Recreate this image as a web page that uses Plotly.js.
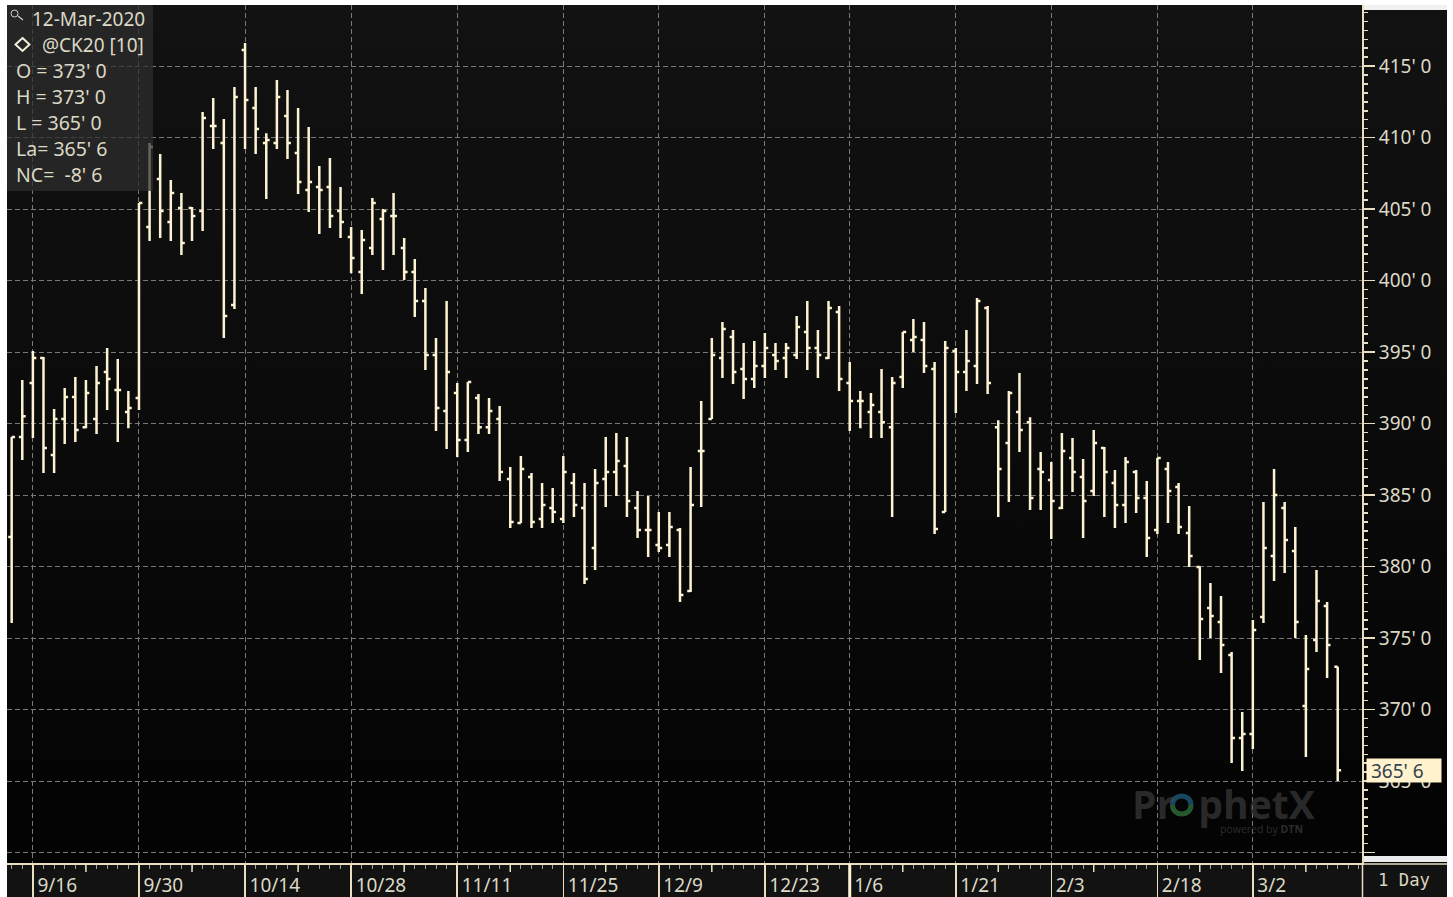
<!DOCTYPE html>
<html>
<head>
<meta charset="utf-8">
<script src="https://cdn.plot.ly/plotly-3.0.1.min.js"></script>
<style>
html,body{margin:0;padding:0;background:#fff;overflow:hidden;width:1453px;height:897px}
#top{position:absolute;left:7px;top:5px;width:1440px;height:859px;background:linear-gradient(#121212,#030303)}
#bot{position:absolute;left:7px;top:864px;width:1440px;height:33px;background:#121212}
#chart{position:absolute;left:0;top:0;width:1453px;height:897px}
</style>
</head>
<body>
<div id="top"></div><div id="bot"></div><div id="chart"></div>
<script>
// Daily bars, @CK20 (index = trading-day order on the chart)
const opens = [382.06,389.06,392.83,394.58,387.8,390.32,391.85,389.75,390.32,393.6,392.34,390.8,391.78,403.74,407.1,404.09,405.07,405.07,404.86,410.8,409.62,398.29,416.12,412.06,409.62,409.62,411.5,408.92,406.33,406.54,406.54,404.86,403.04,400.59,402.27,404.3,404.51,402.27,400.59,398.57,394.79,390.87,392.13,388.85,391.78,389.75,390.32,386.12,383.04,386.26,383.32,384.09,383.32,385.84,384.09,381.29,386.12,386.61,387.03,384.09,382.55,381.5,381.5,382.55,378.29,388.08,390.32,394.58,396.05,393.81,393.11,394.02,394.79,394.58,394.79,396.4,395.28,394.58,397.8,392.83,391.57,390.8,390.8,389.75,393.25,395.84,395.84,393.81,383.81,395.07,393.6,394.02,398.08,389.75,388.64,390.8,390.1,386.82,386.05,384.09,387.59,386.26,385.28,388.29,385.84,384.3,386.61,384.79,382.55,386.82,385.56,382.34,379.97,377.1,376.12,373.81,368.01,368.29,376.47,380.73,384.09,381.08,370.25,374.86,377.24,373];
const highs = [389.06,393.04,395.07,394.65,391.01,392.48,393.25,393.04,394.02,395.28,394.51,392.27,405.42,409.62,408.85,407.03,406.12,405.14,411.78,412.76,411.29,413.53,416.61,413.53,410.31,414.02,413.32,412.06,410.73,408.01,408.57,406.54,403.74,403.53,405.77,405,406.12,402.97,401.5,399.48,395.98,398.57,392.83,392.9,392.06,391.78,391.22,386.96,387.73,386.54,385.84,385.49,387.73,386.54,385.84,386.82,389.06,389.34,389.06,385.28,384.93,383.81,383.81,382.69,386.96,391.57,395.98,397.1,396.54,395.63,395.77,396.33,395.63,395.63,397.52,398.57,396.54,398.57,398.22,394.3,392.27,392.13,393.81,393.25,396.4,397.31,397.1,394.3,395.77,395.28,396.54,398.78,398.22,390.24,392.27,393.53,390.45,388.01,387.31,389.34,388.99,387.52,389.55,388.36,386.75,387.66,386.75,385.98,387.59,387.31,385.84,384.23,380.03,378.85,377.94,374.02,369.83,376.26,384.51,386.82,384.51,382.76,375.21,379.76,377.52,373];
const lows = [376.05,387.45,388.99,386.54,386.54,388.57,388.71,389.68,389.27,390.94,388.71,389.68,390.94,402.76,402.97,402.76,401.78,402.76,403.46,409.2,395.98,398.01,409.2,408.85,405.7,409.2,408.5,406.05,404.79,403.25,403.67,402.97,400.52,399.06,401.78,400.73,401.78,400.04,397.45,393.74,389.48,388.22,387.66,388.01,389.27,389.27,385.98,382.69,383.04,382.69,382.69,383.04,383.04,383.46,378.78,379.76,384.16,384.93,383.46,381.99,380.66,381.01,380.66,377.52,378.22,384.16,390.32,393.18,392.76,391.71,392.48,393.18,393.74,393.18,394.51,393.74,393.18,394.51,392.27,389.48,389.68,388.99,388.99,383.46,392.48,395,393.53,382.27,383.81,390.73,392.27,392.76,392.06,383.46,384.51,388.01,383.95,383.95,381.92,384.02,385.21,381.99,384.93,383.46,382.69,383.04,383.74,380.66,382.27,383.04,382.27,379.97,373.46,375,372.55,366.26,365.7,367.24,376.05,378.99,379.55,375,366.68,374.02,372.2,365];
const closes = [389.06,390.52,394.58,388.29,390.32,391.85,389.55,392.13,392.83,393.11,392.34,391.08,405.42,409.34,404.86,406.12,402.62,404.51,411.36,410.8,397.52,412.83,412.62,410.59,409.83,412.83,409.62,406.89,406.89,406.33,404.51,404.09,401.57,402.83,405.42,404.86,404.51,400.59,398.57,394.79,391.08,393.6,388.85,392.9,389.75,390.87,386.61,383.11,386.82,383.11,384.3,383.81,386.61,384.3,379.13,385.84,386.61,387.38,384.58,382.55,382.55,381.29,382.76,378.01,384.3,388.08,394.79,396.61,393.6,393.11,394.02,395.28,394.37,395.28,396.75,395.28,394.79,398.08,393.11,391.57,391.57,391.29,390.1,392.83,396.4,396.05,394.02,382.62,395.28,393.6,394.37,398.57,392.83,386.82,392.13,389.55,384.79,386.61,384.58,388.08,386.61,384.58,388.64,386.61,384.3,387.31,384.79,381.99,387.59,385.28,382.76,380.73,376.33,376.54,374.51,368.01,368.29,375.56,381.29,385,381.85,376.12,372.83,377.59,374.51,365.75];

// Date labels and their bar positions
const dateTicks = [2,12,22,32,42,52,61,71,79,89,98,108,117];
const dateLabels = ['9/16','9/30','10/14','10/28','11/11','11/25','12/9','12/23','1/6','1/21','2/3','2/18','3/2'];
const midTicks = [7,17,27,37,47,56,66,75,84,93,102,112,122];
const priceTicks = [360,365,370,375,380,385,390,395,400,405,410,415];
const priceLabels = ['',"365' 0","370' 0","375' 0","380' 0","385' 0","390' 0","395' 0","400' 0","405' 0","410' 0","415' 0"];
const infoLines = ['O = 373\' 0','H = 373\' 0','L = 365\' 0','La= 365\' 6','NC=\u00a0\u00a0-8\' 6'];
const lastLabel = "365' 6";

const W = 1453, H = 897, L = 7, R = 91, T = 5, B = 34;
const pw = W - L - R, ph = H - T - B;
const fx = p => (p - L) / pw;
const fy = p => 1 - (p - T) / ph;

const cream = '#fdf3d2', axisCream = '#e9dfc0', textCol = '#dcd8c6';
const uiFont = '"Noto Sans", "Open Sans", sans-serif';
const uiSize = 19;

const idx = opens.map((_, i) => i);

const trace = {
  type: 'ohlc', x: idx, open: opens, high: highs, low: lows, close: closes,
  tickwidth: 0.32, hoverinfo: 'skip', showlegend: false,
  increasing: {line: {color: cream, width: 2.5}},
  decreasing: {line: {color: cream, width: 2.5}}
};

const shapes = [];
function pxLine(x0,y0,x1,y1,color,width,layer){
  shapes.push({type:'line',xref:'paper',yref:'paper',x0:fx(x0),x1:fx(x1),y0:fy(y0),y1:fy(y1),
    line:{color:color,width:width},layer:layer||'above'});
}
function pxRect(x0,y0,x1,y1,fill){
  shapes.push({type:'rect',xref:'paper',yref:'paper',x0:fx(x0),x1:fx(x1),y0:fy(y0),y1:fy(y1),
    fillcolor:fill,line:{width:0},layer:'above'});
}
function pxPath(cmds,color,width){
  const p = v => fx(v[0]).toFixed(6)+','+fy(v[1]).toFixed(6);
  shapes.push({type:'path',xref:'paper',yref:'paper',path:cmds.map(c=>c[0]+' '+c.slice(1).map(p).join(' ')).join(' '),
    line:{color:color,width:width},layer:'above'});
}
// info panel, over the bars
pxRect(7,5,153,191,'rgba(46,46,46,0.72)');
// white strips of the price panel
pxRect(1364,5,1447,10,'#f1f1f1');
pxRect(1364,856,1447,862,'#ececec');
// time-axis line continued under the price panel, divider, thicker year tick
pxLine(1362,864,1447,864,axisCream,1.5);
pxLine(1362.5,864,1362.5,897,axisCream,1.5);
shapes.push({type:'line',xref:'x',yref:'paper',x0:79,x1:79,y0:fy(864),y1:fy(897),line:{color:cream,width:3},layer:'above'});
// mid-span ticks
midTicks.forEach(v => shapes.push({type:'line',xref:'x',yref:'paper',x0:v,x1:v,y0:fy(864),y1:fy(872),line:{color:axisCream,width:1.5},layer:'above'}));
// magnifier icon
shapes.push({type:'circle',xref:'paper',yref:'paper',x0:fx(11),x1:fx(18),y0:fy(10),y1:fy(17),line:{color:'#cfcfcf',width:1},layer:'above'});
pxLine(18,16,23,20,'#cfcfcf',1.2);
// series diamond icon
pxPath([['M',[22.5,38]],['L',[29.5,44.5]],['L',[22.5,51]],['L',[15.5,44.5]],['Z']],'#f3efdc',2);
// watermark ring, blue over green
pxPath([['M',[1172.5,805]],['C',[1172.5,793],[1191,793],[1191,805]]],'#17465e',5);
pxPath([['M',[1172.5,805]],['C',[1172.5,817],[1191,817],[1191,805]]],'#25582c',5);

const annotations = [];
function label(text,px,py,opts){
  annotations.push(Object.assign({xref:'paper',yref:'paper',x:fx(px),y:fy(py),text:text,showarrow:false,
    xanchor:'left',yanchor:'middle',align:'left',borderpad:0,
    font:{family:uiFont,size:uiSize,color:textCol}},opts||{}));
}
label('12-Mar-2020',31,19);
label('@CK20 [10]',41,45);
infoLines.forEach((t,i)=>label(t,14.5,71+i*25.8,{font:{family:uiFont,size:19.5,color:textCol}}));
label('1 Day',1377,880,{font:{family:'"DejaVu Sans Mono", monospace',size:17.3,color:'#d9d4bc'}});
// watermark
label('Pr<span style="color:rgba(0,0,0,0)">o</span>phetX',1131,803,{font:{family:'"Open Sans", sans-serif',size:39,color:'rgba(74,74,74,0.55)',weight:700}});
label('powered by <b>DTN</b>',1219,829,{font:{family:'"Open Sans", sans-serif',size:10.5,color:'rgba(74,74,74,0.6)'}});
// last price flag
annotations.push({xref:'paper',yref:'y',x:fx(1366),y:closes[closes.length-1],xanchor:'left',yanchor:'middle',
  text:lastLabel,showarrow:false,align:'left',bgcolor:'#fff2cc',width:66,height:15,borderpad:4,
  font:{family:uiFont,size:19,color:'#33424f'}});

const layout = {
  width: W, height: H,
  margin: {l:L,r:R,t:T,b:B,pad:0},
  paper_bgcolor:'rgba(0,0,0,0)', plot_bgcolor:'rgba(0,0,0,0)',
  showlegend:false, hovermode:false, dragmode:false,
  xaxis:{
    type:'linear', range:[-0.44,127.29], rangeslider:{visible:false},
    tickmode:'array', tickvals:dateTicks, ticktext:dateLabels,
    ticks:'outside', ticklen:33, tickwidth:1.5, tickcolor:axisCream,
    showline:true, linecolor:axisCream, linewidth:1.5,
    showgrid:true, gridcolor:'#787878', griddash:'4.5px,3.5px', gridwidth:1, zeroline:false,
    ticklabelposition:'outside right', ticklabelstandoff:5, ticklabelshift:3,
    tickfont:{family:uiFont,size:uiSize,color:textCol},
    minor:{tickmode:'linear',tick0:0,dtick:1,ticks:'outside',ticklen:4,tickwidth:1,tickcolor:'#a9a28c',showgrid:false}
  },
  yaxis:{
    type:'linear', side:'right', range:[359.27,419.27], fixedrange:true,
    tickmode:'array', tickvals:priceTicks, ticktext:priceLabels,
    ticks:'outside', ticklen:11, tickwidth:1.5, tickcolor:axisCream,
    showline:true, linecolor:axisCream, linewidth:2,
    showgrid:true, gridcolor:'#787878', griddash:'4.5px,3.5px', gridwidth:1, zeroline:false,
    tickfont:{family:uiFont,size:uiSize,color:textCol},
    minor:{tickmode:'linear',tick0:360,dtick:0.625,ticks:'outside',ticklen:4,tickwidth:1.5,tickcolor:axisCream,showgrid:false}
  },
  shapes:shapes, annotations:annotations
};
Plotly.newPlot('chart',[trace],layout,{displayModeBar:false,staticPlot:true});
</script>
</body>
</html>
